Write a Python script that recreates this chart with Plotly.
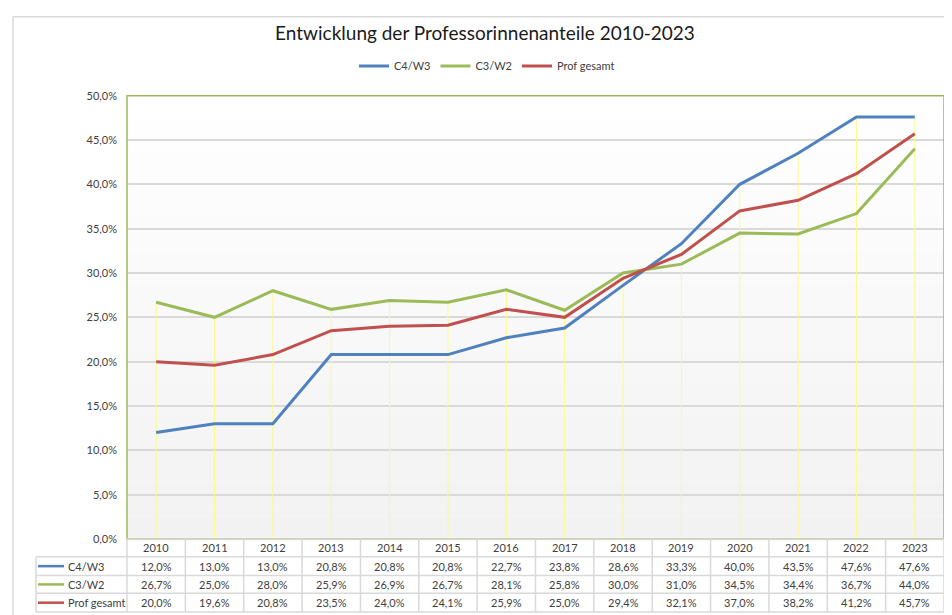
import plotly.graph_objects as go

years = [2010, 2011, 2012, 2013, 2014, 2015, 2016, 2017, 2018, 2019, 2020, 2021, 2022, 2023]
c4_w3 = [12.0, 13.0, 13.0, 20.8, 20.8, 20.8, 22.7, 23.8, 28.6, 33.3, 40.0, 43.5, 47.6, 47.6]
c3_w2 = [26.7, 25.0, 28.0, 25.9, 26.9, 26.7, 28.1, 25.8, 30.0, 31.0, 34.5, 34.4, 36.7, 44.0]
prof_gesamt = [20.0, 19.6, 20.8, 23.5, 24.0, 24.1, 25.9, 25.0, 29.4, 32.1, 37.0, 38.2, 41.2, 45.7]

series = [
    ("C4/W3", c4_w3, "#4F81BD"),
    ("C3/W2", c3_w2, "#9BBB59"),
    ("Prof gesamt", prof_gesamt, "#C0504D"),
]

# page offset (default body margin of the html page)
OFF = 8
VW, VH = 952, 615
W, H = VW - OFF, VH - OFF
PL, PR, PT, PB = 127, 944, 90, 539          # plot area in viewport pixels
PW, PH = PR - PL, PB - PT
FONT = "Lato, 'Open Sans', sans-serif"
TXT = "#404040"
GRID = "#d9d9d9"


def px_x(px):
    return (px - PL) / PW


def px_y(py):
    return (PB - py) / PH


def cx(px):
    return (px - OFF) / W


def cy(py):
    return 1 - (py - OFF) / H


def fmt(v):
    return f"{v:.1f}".replace(".", ",") + "%"


fig = go.Figure()

# drop lines from highest value to the axis
dx, dy = [], []
for i, yr in enumerate(years):
    top = max(c4_w3[i], c3_w2[i], prof_gesamt[i])
    dx += [yr, yr, None]
    dy += [top, 0, None]
fig.add_trace(go.Scatter(x=dx, y=dy, mode="lines", line=dict(color="#fbfb8a", width=1),
                         showlegend=False, hoverinfo="skip"))

for name, vals, col in series:
    fig.add_trace(go.Scatter(x=years, y=vals, mode="lines", name=name,
                             line=dict(color=col, width=3)))

shapes = []
# gradient background
n = 40
for k in range(n):
    t = (k + 0.5) / n
    c = int(round(0xf2 + (0xff - 0xf2) * t))
    shapes.append(dict(type="rect", xref="paper", yref="paper", x0=0, x1=1,
                       y0=k / n, y1=(k + 1) / n, fillcolor=f"rgb({c},{c},{c})",
                       line=dict(width=0), layer="below"))

# plot-area border
shapes.append(dict(type="rect", xref="paper", yref="paper", x0=0, x1=1, y0=0, y1=1,
                   line=dict(color="#9BBB59", width=1.5), fillcolor="rgba(0,0,0,0)"))

# outer chart border
shapes.append(dict(type="line", xref="paper", yref="paper", x0=px_x(13), x1=px_x(13),
                   y0=px_y(VH + 5), y1=px_y(10), line=dict(color=GRID, width=1.5)))
shapes.append(dict(type="line", xref="paper", yref="paper", x0=px_x(13), x1=px_x(VW + 5),
                   y0=px_y(10), y1=px_y(10), line=dict(color=GRID, width=1.5)))

# data table grid
row_lines = [557, 576, 594, 613]
tbl_left = px_x(36)
shapes.append(dict(type="line", xref="paper", yref="paper", x0=0, x1=1, y0=0, y1=0,
                   line=dict(color=GRID, width=1.5)))
for ry in row_lines:
    shapes.append(dict(type="line", xref="paper", yref="paper", x0=tbl_left, x1=1,
                       y0=px_y(ry), y1=px_y(ry), line=dict(color=GRID, width=1.5)))
ncol = len(years)
for i in range(ncol + 1):
    shapes.append(dict(type="line", xref="paper", yref="paper", x0=i / ncol, x1=i / ncol,
                       y0=0, y1=px_y(613), line=dict(color=GRID, width=1.5)))
shapes.append(dict(type="line", xref="paper", yref="paper", x0=tbl_left, x1=tbl_left,
                   y0=px_y(557), y1=px_y(613), line=dict(color=GRID, width=1.5)))

annotations = []
row_centers = [566.5, 585, 603.5]
for i, yr in enumerate(years):
    annotations.append(dict(xref="paper", yref="paper", x=(i + 0.5) / ncol, y=px_y(548),
                            text=str(yr), showarrow=False, xanchor="center", yanchor="middle",
                            font=dict(family=FONT, size=11, color=TXT)))
for (name, vals, col), ry in zip(series, row_centers):
    shapes.append(dict(type="line", xref="paper", yref="paper", x0=px_x(38), x1=px_x(64),
                       y0=px_y(ry), y1=px_y(ry), line=dict(color=col, width=2.5)))
    annotations.append(dict(xref="paper", yref="paper", x=px_x(66), y=px_y(ry), text=name,
                            showarrow=False, xanchor="left", yanchor="middle",
                            font=dict(family=FONT, size=11, color=TXT)))
    for i, v in enumerate(vals):
        annotations.append(dict(xref="paper", yref="paper", x=(i + 0.5) / ncol, y=px_y(ry),
                                text=fmt(v), showarrow=False, xanchor="center",
                                yanchor="middle",
                                font=dict(family=FONT, size=11, color=TXT)))

fig.update_layout(
    width=W, height=H,
    margin=dict(l=PL - OFF, r=VW - PR, t=PT - OFF, b=VH - PB),
    paper_bgcolor="white", plot_bgcolor="rgba(0,0,0,0)",
    separators=",.",
    font=dict(family=FONT, color=TXT),
    title=dict(text="Entwicklung der Professorinnenanteile 2010-2023",
               xref="container", yref="container", x=cx(485), y=cy(33),
               xanchor="center", yanchor="middle",
               font=dict(family=FONT, size=19, color="#1a1a1a")),
    legend=dict(orientation="h", xref="container", yref="container",
                x=cx(487), y=cy(66), xanchor="center", yanchor="middle",
                font=dict(family=FONT, size=11, color=TXT), bgcolor="rgba(0,0,0,0)",
                itemwidth=30, tracegroupgap=0),
    xaxis=dict(range=[years[0] - 0.5, years[-1] + 0.5], showticklabels=False,
               showgrid=False, zeroline=False, showline=False, fixedrange=True),
    yaxis=dict(range=[0, 50], dtick=5, tickformat=".1f", ticksuffix="%",
               showgrid=True, gridcolor=GRID, gridwidth=1.5, zeroline=False,
               showline=False, ticks="", ticklabelstandoff=9,
               tickfont=dict(family=FONT, size=11, color=TXT)),
    shapes=shapes,
    annotations=annotations,
    showlegend=True,
)

fig.write_html("out.html")
